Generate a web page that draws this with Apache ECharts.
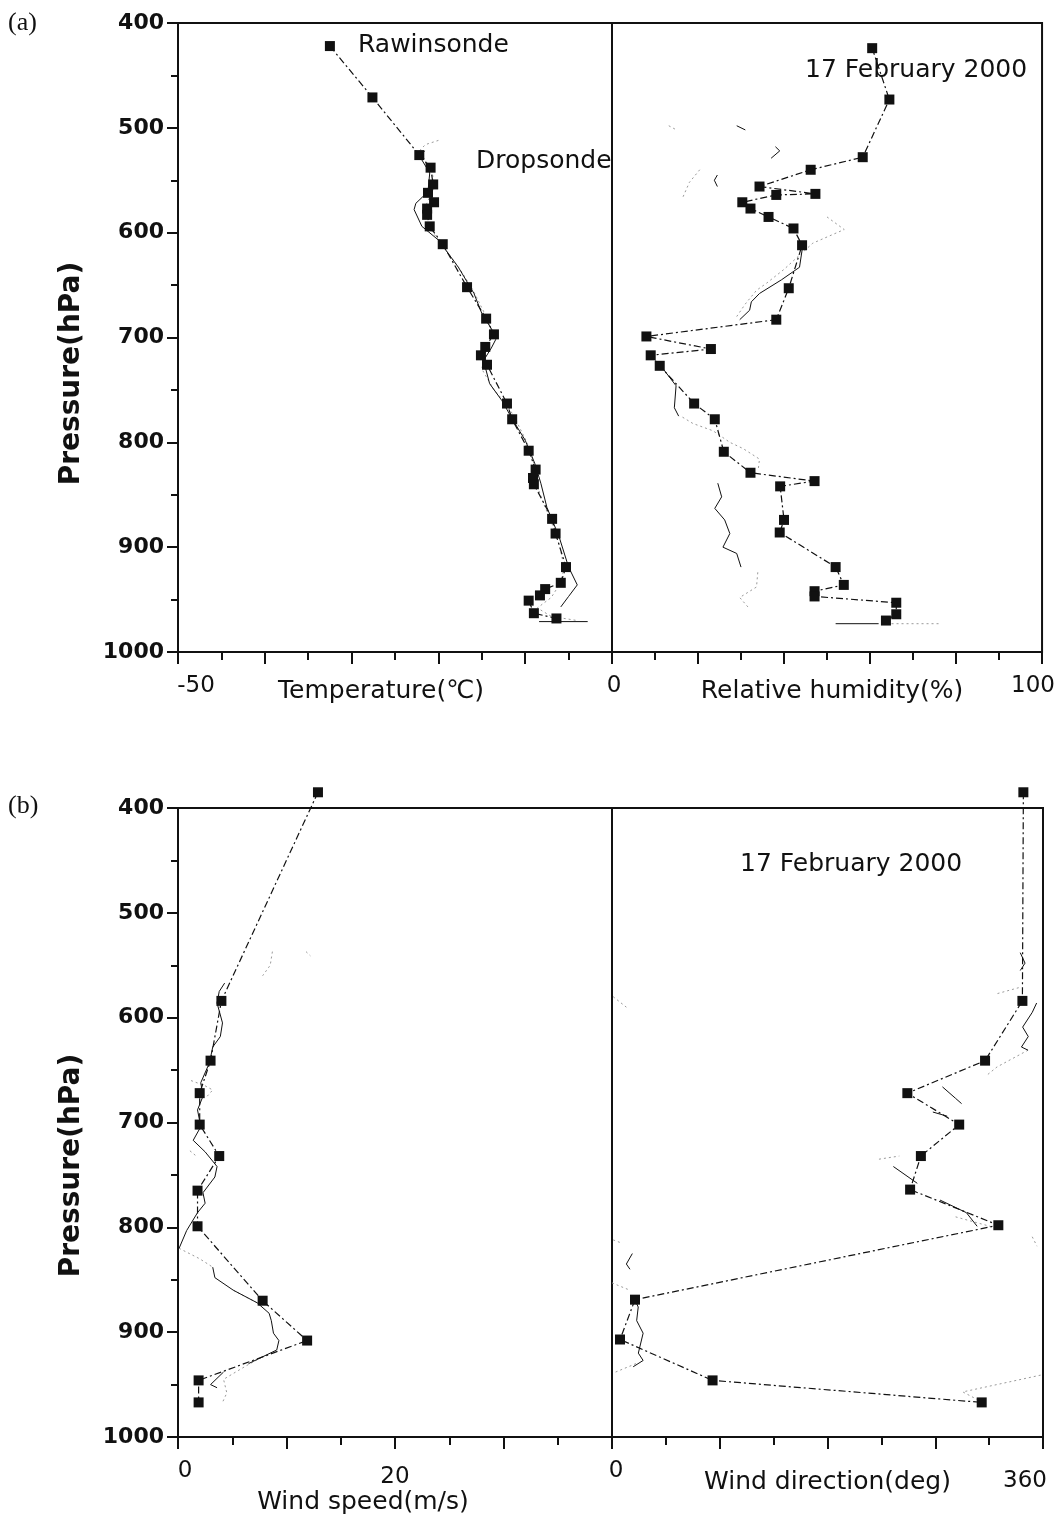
<!DOCTYPE html>
<html>
<head>
<meta charset="utf-8">
<script src="https://cdn.jsdelivr.net/npm/echarts@6/dist/echarts.min.js"></script>
<style>html,body{margin:0;padding:0;background:#fff}#c{width:1058px;height:1517px}</style>
</head>
<body>
<div id="c"></div>
<script>
var chart = echarts.init(document.getElementById('c'));

// (a) temperature, deg C vs pressure hPa
var tRawP = [422, 471, 526, 538, 554, 562, 571, 577, 583, 594, 611, 652, 682, 697, 709, 717, 726, 763, 778, 808, 826, 834, 840, 873, 887, 919, 934, 940, 946, 951, 963, 968];
var tRawT = [-32.5, -27.6, -22.2, -20.9, -20.6, -21.2, -20.5, -21.3, -21.3, -21.0, -19.5, -16.7, -14.5, -13.6, -14.6, -15.1, -14.4, -12.1, -11.5, -9.6, -8.8, -9.1, -9.0, -6.9, -6.5, -5.3, -5.9, -7.7, -8.3, -9.6, -9.0, -6.4];
var tDropP = [522, 528, 543, 561, 572, 578, 594, 607, 633, 658, 677, 693, 702, 710, 722, 744, 760, 779, 798, 820, 839, 862, 890, 919, 936, 947, 957, null, 971, 971];
var tDropT = [-21.6, -22.1, -21.0, -21.2, -22.6, -22.8, -21.9, -20.0, -17.7, -15.9, -15.0, -13.8, -13.4, -13.9, -14.8, -14.1, -12.7, -11.4, -10.0, -8.9, -8.2, -7.5, -6.1, -5.0, -4.0, -5.0, -5.9, null, -8.4, -2.8];
var tGrayP = [512, 516, 522, 540, 555, 575, 590, 607, 635, 655, 680, 697, 712, 730, 750, 765, 780, 800, 820, 840, 860, 880, 900, 920, 935, 948, 958, 966, 970];
var tGrayT = [-20.0, -21.5, -22.2, -20.8, -20.4, -21.5, -21.5, -20.0, -17.5, -16.0, -14.5, -13.7, -14.5, -15.0, -13.6, -12.0, -11.0, -9.8, -9.0, -8.7, -7.8, -6.8, -6.0, -5.5, -6.0, -7.0, -8.6, -7.0, -4.0];

// (a) relative humidity, %
var rhRawP = [424, 473, 528, 540, 556, 563, 564, 571, 577, 585, 596, 612, 653, 683, 699, 711, 717, 727, 763, 778, 809, 829, 837, 842, 874, 886, 919, 936, 942, 947, 953, 964, 970];
var rhRaw = [60.5, 64.5, 58.3, 46.2, 34.3, 47.3, 38.2, 30.3, 32.2, 36.4, 42.2, 44.2, 41.1, 38.2, 8.0, 23.0, 9.0, 11.1, 19.1, 23.9, 26.0, 32.2, 47.1, 39.1, 40.0, 39.0, 52.0, 53.9, 47.1, 47.1, 66.1, 66.1, 63.7];
var rhDropP = [498, 502, null, 518, 522, 529, null, 545, 550, 556, null, 614, 633, 645, 658, 666, 674, 683, null, 730, 746, 767, 775, null, 839, 852, 863, 874, 887, 900, 906, 919, null, 973, 973];
var rhDrop = [29, 31, null, 38, 39, 37, null, 24.5, 23.8, 24.5, null, 44.3, 43.6, 39.4, 34.3, 32.4, 32.0, 29.7, null, 11.9, 14.9, 14.5, 15.5, null, 24.6, 25.5, 23.9, 26.2, 27.4, 25.8, 29, 30, null, 52, 62];
var rhGrayP = [498, 502, null, 540, 552, 566, null, 585, 597, 610, 620, 635, 648, 655, 668, 680, null, 776, 782, 789, 800, 806, 816, 826, null, 924, 938, 948, 957, null, 973, 973];
var rhGray = [13.2, 15, null, 20.4, 18, 16.5, null, 50, 54, 46.7, 44, 40, 36, 33.6, 31, 29, null, 16.4, 18.8, 23.5, 27.4, 30.5, 34.3, 34, null, 33.9, 33.6, 29.7, 31.6, null, 65, 76];

// (b) wind speed, m/s
var wsRawP = [385, 584, 641, 672, 702, 732, 765, 799, 870, 908, 946, 967];
var wsRaw = [12.9, 4.0, 3.0, 2.0, 2.0, 3.8, 1.8, 1.8, 7.8, 11.9, 1.9, 1.9];
var wsDropP = [567, 575, 586, 605, 618, 628, 643, 662, 675, 688, 704, 717, 728, 742, 752, 767, 777, 786, 803, 820, null, 838, 848, 860, 872, 882, 889, 901, 908, 917, 924, 930, null, 938, 950, 953];
var wsDrop = [4.3, 3.8, 3.6, 4.1, 3.9, 3.2, 2.9, 2.1, 2.3, 1.8, 2.1, 1.4, 2.5, 3.6, 3.4, 2.3, 2.5, 1.8, 0.8, 0.1, null, 3.2, 3.4, 5.1, 7.3, 8.4, 8.6, 8.8, 9.3, 9.1, 7.7, 6.5, null, 4.2, 3.0, 3.6];
var wsGrayP = [537, 541, null, 537, 550, 560, null, 660, 665, 669, 676, null, 727, 733, null, 820, 830, 838, null, 860, 866, 872, null, 924, 932, 940, 945, 958, 967];
var wsGray = [11.8, 12.2, null, 8.7, 8.5, 7.8, null, 1.2, 2.5, 3.2, 2.6, null, 1.1, 1.8, null, 0.1, 2.0, 3.2, null, 5.1, 6.2, 7.3, null, 7.7, 6.3, 5.0, 4.2, 4.5, 4.1];

// (b) wind direction, deg
var wdRawP = [385, 584, 641, 672, 702, 732, 764, 798, 869, 907, 946, 967];
var wdRaw = [343.6, 342.8, 311.6, 246.7, 290, 258, 249, 322.7, 19.2, 6.7, 84, 308.8];
var wdDropP = [538, 548, 555, null, 586, 595, 609, 618, 628, 631, null, 666, 677, 682, null, 690, 694, null, 742, 758, null, 774, 786, 799, null, 825, 835, 840, null, 866, 876, 889, 901, 920, 927, 933];
var wdDrop = [341, 345, 341, null, 354.7, 351, 343, 347.7, 342, 347.5, null, 276, 287, 292, null, 268, 280, null, 235, 255, null, 274, 296, 305, null, 17, 12, 15, null, 17.7, 21.9, 20.6, 26, 22, 26, 17.7];
var wdGrayP = [577, 571, null, 580, 590, null, 631, 647, 655, null, 735, 732, null, 790, 801, null, 809, 818, null, 812, 815, null, 853, 860, null, 930, 939, null, 941, 957, 966];
var wdGray = [322, 341, null, 1, 12, null, 347.5, 321.6, 313, null, 223, 240, null, 287, 322, null, 351, 355, null, 1, 8, null, 0, 15, null, 20, 1, null, 358, 293, 308];

var INK = '#111';
var FONT = 'DejaVu Sans, sans-serif';
var FS = 25;
var TS = 23;

function pairs(xs, ps) {
    return xs.map(function (v, i) {
        return (v === null || ps[i] === null) ? ['-', '-'] : [v, ps[i]];
    });
}

function raw(xs, ps, g) {
    return {
        type: 'line', xAxisIndex: g, yAxisIndex: g, data: pairs(xs, ps),
        symbol: 'rect', symbolSize: 10, clip: false,
        itemStyle: { color: INK },
        lineStyle: { color: INK, width: 1.2, type: [7, 3, 2, 3] }
    };
}
function drop(xs, ps, g) {
    return {
        type: 'line', xAxisIndex: g, yAxisIndex: g, data: pairs(xs, ps),
        showSymbol: false, symbol: 'none', connectNulls: false,
        lineStyle: { color: INK, width: 1 }
    };
}
function gray(xs, ps, g) {
    return {
        type: 'line', xAxisIndex: g, yAxisIndex: g, data: pairs(xs, ps),
        showSymbol: false, symbol: 'none', connectNulls: false,
        lineStyle: { color: '#9a9a9a', width: 1, type: [2, 3] }
    };
}

function yAx(g) {
    return {
        gridIndex: g, type: 'value', inverse: true, min: 400, max: 1000, interval: 100,
        splitLine: { show: false },
        axisLine: { show: true, onZero: false, lineStyle: { color: INK, width: 2 } },
        axisTick: { length: 11, lineStyle: { color: INK, width: 2 } },
        minorTick: { show: true, splitNumber: 2, length: 7, lineStyle: { color: INK, width: 2 } },
        axisLabel: { margin: 14, fontSize: 22, fontWeight: 'bold', color: INK, fontFamily: FONT,
            formatter: function (v) { return String(v); } },
        name: 'Pressure(hPa)', nameLocation: 'middle', nameGap: 92, nameMoveOverlap: false,
        nameTextStyle: { fontSize: 28, fontWeight: 'bold', color: INK, fontFamily: FONT, padding: [0, g < 2 ? 72 : 86, 0, 0] }
    };
}
// right-hand panels share the pressure scale but draw nothing of their own
function yHidden(g) {
    return {
        gridIndex: g, type: 'value', inverse: true, min: 400, max: 1000, interval: 100,
        show: false, axisLine: { show: false, onZero: false }, splitLine: { show: false }
    };
}

function xAx(g, min, max, interval, fmt, name, nameGap, namePad, rich) {
    return {
        gridIndex: g, type: 'value', min: min, max: max, interval: interval,
        splitLine: { show: false },
        axisLine: { show: true, onZero: false, lineStyle: { color: INK, width: 2 } },
        axisTick: { length: 12, lineStyle: { color: INK, width: 2 } },
        minorTick: { show: true, splitNumber: 2, length: 8, lineStyle: { color: INK, width: 2 } },
        axisLabel: { margin: 23, fontSize: TS, color: INK, fontFamily: FONT, formatter: fmt, rich: rich, showMinLabel: true, showMaxLabel: true, hideOverlap: false },
        name: name, nameLocation: 'middle', nameGap: nameGap, nameMoveOverlap: false,
        nameTextStyle: { fontSize: FS, color: INK, fontFamily: FONT, padding: namePad }
    };
}

function lab(pad) {
    return { fontSize: TS, color: INK, fontFamily: FONT, padding: pad };
}

function note(text, x, y) {
    return { type: 'text', left: x, top: y, style: { text: text, fontSize: FS, fill: INK, fontFamily: FONT } };
}

var option = {
    animation: false,
    backgroundColor: '#fff',
    grid: [
        { left: 178, top: 23, width: 434, height: 629, show: true, borderColor: INK, borderWidth: 2 },
        { left: 612, top: 23, width: 431, height: 629, show: true, borderColor: INK, borderWidth: 2 },
        { left: 178, top: 808, width: 434, height: 629, show: true, borderColor: INK, borderWidth: 2 },
        { left: 612, top: 808, width: 431, height: 629, show: true, borderColor: INK, borderWidth: 2 }
    ],
    yAxis: [yAx(0), yHidden(1), yAx(2), yHidden(3)],
    xAxis: [
        xAx(0, -50, 0, 10, function (v) { return v === -50 ? '{s|-50}' : ''; },
            'Temperature(℃)', 27, [0, 28, 0, 0], { s: lab([0, 0, 0, 36]) }),
        xAx(1, 0, 100, 20, function (v) { return v === 0 ? '{s|0}' : (v === 100 ? '{e|100}' : ''); },
            'Relative humidity(%)', 27, [0, 0, 0, 10], { s: lab([0, 0, 0, 4]), e: lab([0, 18, 0, 0]) }),
        xAx(2, 0, 40, 10, function (v) { return v === 0 ? '{s|0}' : (v === 20 ? '{t|20}' : ''); },
            'Wind speed(m/s)', 53, [0, 64, 0, 0], { s: lab([0, 0, 0, 14]), t: lab([6, 0, 0, 0]) }),
        xAx(3, 0, 360, 90, function (v) { return v === 0 ? '{s|0}' : (v === 360 ? '{e|360}' : ''); },
            'Wind direction(deg)', 33, [0, 0, 0, 0], { s: lab([0, 0, 0, 8]), e: lab([10, 36, 0, 0]) })
    ],
    series: [
        gray(tGrayT, tGrayP, 0), drop(tDropT, tDropP, 0), raw(tRawT, tRawP, 0),
        gray(rhGray, rhGrayP, 1), drop(rhDrop, rhDropP, 1), raw(rhRaw, rhRawP, 1),
        gray(wsGray, wsGrayP, 2), drop(wsDrop, wsDropP, 2), raw(wsRaw, wsRawP, 2),
        gray(wdGray, wdGrayP, 3), drop(wdDrop, wdDropP, 3), raw(wdRaw, wdRawP, 3)
    ],
    graphic: [
        { type: 'text', left: 8, top: 10, style: { text: '(a)', fontSize: 26, fill: INK, fontFamily: 'Liberation Serif, serif' } },
        { type: 'text', left: 8, top: 793, style: { text: '(b)', fontSize: 26, fill: INK, fontFamily: 'Liberation Serif, serif' } },
        note('Rawinsonde', 358, 33),
        note('Dropsonde', 476, 149),
        note('17 February 2000', 805, 58),
        note('17 February 2000', 740, 852)
    ]
};

chart.setOption(option);
</script>
</body>
</html>
